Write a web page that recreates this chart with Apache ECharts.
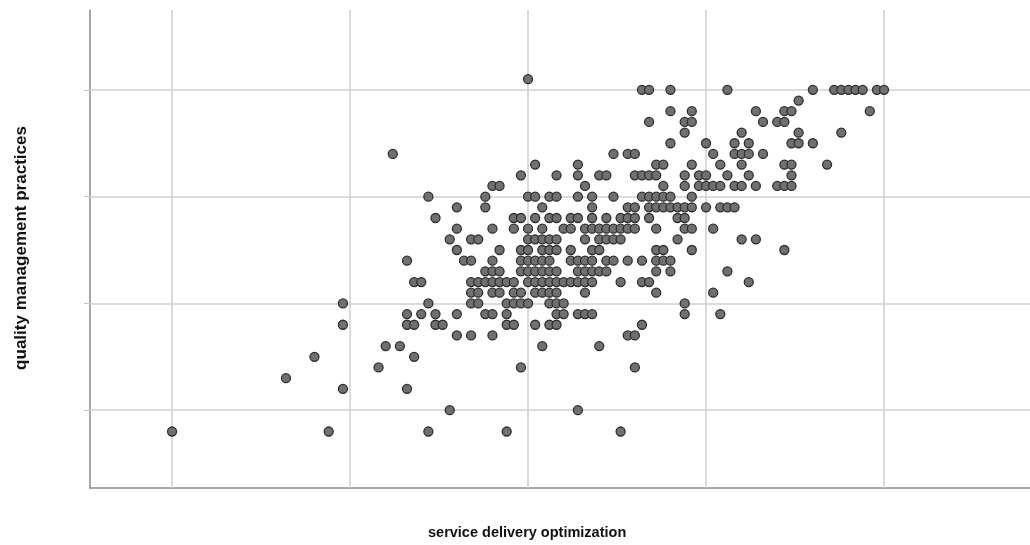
<!DOCTYPE html>
<html>
<head>
<meta charset="utf-8">
<script src="https://cdn.jsdelivr.net/npm/echarts@6/dist/echarts.min.js"></script>
<style>
  html, body { margin: 0; padding: 0; background: #fff; }
  #chart { width: 1030px; height: 545px; }
</style>
</head>
<body>
<div id="chart"></div>
<script>
// quality management practices (y) levels, one row of points per level
const yLevels = [5.1, 5.0, 4.9, 4.8, 4.7, 4.6, 4.5, 4.4, 4.3, 4.2, 4.1, 4.0, 3.9, 3.8, 3.7, 3.6,
  3.5, 3.4, 3.3, 3.2, 3.1, 3.0, 2.9, 2.8, 2.7, 2.6, 2.5, 2.4, 2.3, 2.2, 2.0, 1.8]

// service delivery optimization (x) values for each level above
const xRows = [
  [3.00],
  [3.64, 3.68, 3.80, 4.12, 4.60, 4.72, 4.76, 4.80, 4.84, 4.88, 4.96, 5.00],
  [4.52],
  [3.80, 3.92, 4.28, 4.44, 4.48, 4.92],
  [3.68, 3.88, 3.92, 4.32, 4.40, 4.44],
  [3.88, 4.20, 4.52, 4.76],
  [3.80, 4.00, 4.16, 4.24, 4.48, 4.52, 4.60],
  [2.24, 3.48, 3.56, 3.60, 4.04, 4.16, 4.20, 4.24, 4.32],
  [3.04, 3.28, 3.72, 3.76, 3.92, 4.08, 4.20, 4.44, 4.48, 4.68],
  [2.96, 3.16, 3.28, 3.40, 3.44, 3.60, 3.64, 3.68, 3.72, 3.88, 3.96, 4.00, 4.12, 4.24, 4.48],
  [2.80, 2.84, 3.32, 3.76, 3.88, 3.96, 4.00, 4.04, 4.08, 4.16, 4.20, 4.28, 4.40, 4.44, 4.48],
  [2.44, 2.76, 3.00, 3.04, 3.12, 3.16, 3.28, 3.36, 3.48, 3.64, 3.68, 3.72, 3.76, 3.80, 3.92],
  [2.60, 2.76, 3.08, 3.36, 3.56, 3.60, 3.68, 3.72, 3.76, 3.80, 3.84, 3.88, 3.92, 4.00, 4.08, 4.12, 4.16],
  [2.48, 2.92, 2.96, 3.04, 3.12, 3.16, 3.24, 3.28, 3.36, 3.44, 3.52, 3.56, 3.60, 3.68, 3.84, 3.88],
  [2.60, 2.80, 2.92, 3.00, 3.08, 3.20, 3.24, 3.32, 3.36, 3.40, 3.44, 3.48, 3.52, 3.56, 3.60, 3.72, 3.88, 3.92, 4.04],
  [2.56, 2.68, 2.72, 3.00, 3.04, 3.08, 3.12, 3.16, 3.32, 3.40, 3.44, 3.48, 3.52, 3.84, 4.20, 4.28],
  [2.60, 2.84, 2.96, 3.00, 3.08, 3.12, 3.16, 3.24, 3.36, 3.40, 3.72, 3.76, 3.92, 4.44],
  [2.32, 2.64, 2.68, 2.80, 2.96, 3.00, 3.04, 3.08, 3.12, 3.24, 3.28, 3.32, 3.36, 3.44, 3.48, 3.56, 3.64, 3.72, 3.76, 3.80],
  [2.76, 2.80, 2.84, 2.96, 3.00, 3.04, 3.08, 3.12, 3.16, 3.28, 3.32, 3.36, 3.40, 3.44, 3.72, 3.80, 4.12],
  [2.36, 2.40, 2.68, 2.72, 2.76, 2.80, 2.84, 2.88, 2.92, 3.00, 3.04, 3.08, 3.12, 3.16, 3.20, 3.24, 3.28, 3.32, 3.36, 3.52, 3.64, 3.68, 4.24],
  [2.68, 2.72, 2.80, 2.84, 2.92, 2.96, 3.04, 3.08, 3.12, 3.16, 3.32, 3.72, 4.04],
  [1.96, 2.44, 2.68, 2.72, 2.88, 2.92, 2.96, 3.00, 3.12, 3.16, 3.20, 3.88],
  [2.32, 2.40, 2.48, 2.60, 2.76, 2.80, 2.88, 3.16, 3.20, 3.28, 3.32, 3.36, 3.88, 4.08],
  [1.96, 2.32, 2.36, 2.48, 2.52, 2.88, 2.92, 3.04, 3.12, 3.16, 3.64],
  [2.60, 2.68, 2.80, 3.56, 3.60],
  [2.20, 2.28, 3.08, 3.40],
  [1.80, 2.36],
  [2.16, 2.96, 3.60],
  [1.64],
  [1.96, 2.32],
  [2.56, 3.28],
  [1.00, 1.88, 2.44, 2.88, 3.52]
]

// reference lines (no tick labels in the original)
const xGrid = [1, 2, 3, 4, 5]
const yGrid = [2, 3, 4, 5]

const points = []
yLevels.forEach((y, i) => {
  xRows[i].forEach((x) => points.push([x, y]))
})

const chart = echarts.init(document.getElementById("chart"))

const option = {
  animation: false,
  backgroundColor: "#fff",
  grid: { left: 90, right: 0, top: 10, bottom: 57 },
  xAxis: {
    type: "value",
    min: 0.539,
    max: 5.82,
    splitLine: { show: false },
    axisTick: { show: false },
    axisLabel: { show: false },
    axisLine: { lineStyle: { color: "#8a8a8a", width: 1.5 } },
  },
  yAxis: {
    type: "value",
    min: 1.271,
    max: 5.748,
    splitLine: { show: false },
    axisTick: {
      show: true,
      customValues: yGrid,
      length: 6,
      lineStyle: { color: "#c4c4c4" },
    },
    axisLabel: { show: false },
    axisLine: { show: true, lineStyle: { color: "#8a8a8a", width: 1.5 } },
  },
  graphic: [
    {
      type: "text",
      left: 528 - 100,
      top: 525,
      style: {
        text: "service delivery optimization",
        font: "bold 14.5px 'Liberation Sans', Arial, sans-serif",
        fill: "#111",
      },
    },
    {
      type: "text",
      x: 21,
      y: 248,
      rotation: Math.PI / 2,
      style: {
        text: "quality management practices",
        font: "bold 17px 'Liberation Sans', Arial, sans-serif",
        fill: "#111",
        align: "center",
        verticalAlign: "middle",
      },
    },
  ],
  series: [
    {
      type: "line",
      data: [],
      silent: true,
      markLine: {
        silent: true,
        z: 1,
        symbol: ["none", "none"],
        label: { show: false },
        lineStyle: { color: "#cfcfcf", width: 1.5, type: "solid" },
        data: [
          ...xGrid.map((v) => ({ xAxis: v })),
          ...yGrid.map((v) => ({ yAxis: v })),
        ],
      },
    },
    {
      type: "scatter",
      z: 3,
      symbol: "circle",
      symbolSize: 9,
      itemStyle: {
        color: "#707070",
        borderColor: "#2f2f2f",
        borderWidth: 1.3,
        opacity: 1,
      },
      data: points,
    },
  ],
}

chart.setOption(option)
</script>
</body>
</html>
